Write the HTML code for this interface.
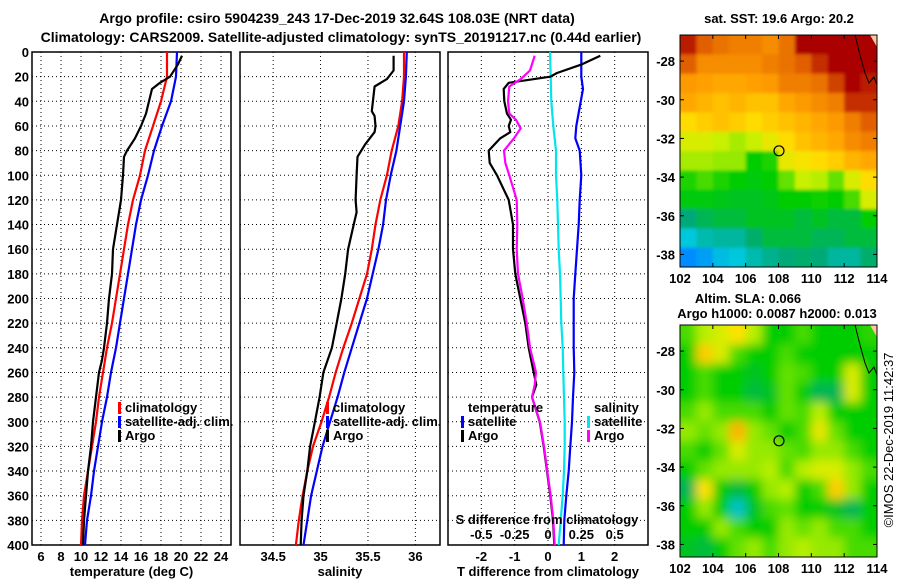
<!DOCTYPE html>
<html><head><meta charset="utf-8"><style>
body{margin:0;background:#fff;}
svg{display:block;font-family:"Liberation Sans",Arial,sans-serif;}
.b{font-weight:bold;font-size:13px;}
.t{font-weight:bold;font-size:14px;}
</style></head><body>
<svg id="c" width="900" height="580" viewBox="0 0 900 580">
<rect width="900" height="580" fill="#fff"/>
<text class="t" x="337" y="23" text-anchor="middle">Argo profile: csiro 5904239_243 17-Dec-2019 32.64S 108.03E (NRT data)</text>
<text class="t" x="341" y="42" text-anchor="middle">Climatology: CARS2009. Satellite-adjusted climatology: synTS_20191217.nc (0.44d earlier)</text>
<g id="g"></g>
</svg>
<script>
// ---- data ----
const depthTicks=[0,20,40,60,80,100,120,140,160,180,200,220,240,260,280,300,320,340,360,380,400];
const tempTicks=[6,8,10,12,14,16,18,20,22,24];
const salTicks=[34.5,35,35.5,36];
const tdTicks=[-2,-1,0,1,2];
const sdTicks=[-0.5,-0.25,0,0.25,0.5];
const sdTickLabels=["-0.5","-0.25","0","0.25","0.5"];
const stdDepth=[0,20,40,60,80,100,120,140,160,180,200,220,240,260,280,300,320,340,360,380,400];
const tempClim=[18.6,18.6,18.0,17.2,16.4,15.9,15.2,14.7,14.3,13.9,13.5,13.1,12.6,12.2,11.8,11.5,11.1,10.7,10.3,10.1,10.0];
const tempSat=[19.6,19.5,19.0,18.1,17.3,16.7,16.0,15.5,15.1,14.7,14.3,13.9,13.5,13.0,12.6,12.1,11.7,11.3,11.0,10.6,10.4];
const salClim=[35.88,35.88,35.86,35.82,35.75,35.70,35.63,35.58,35.54,35.49,35.41,35.33,35.24,35.16,35.09,35.01,34.92,34.86,34.81,34.77,34.74];
const salSat=[35.91,35.90,35.88,35.84,35.80,35.74,35.69,35.66,35.61,35.55,35.49,35.41,35.33,35.25,35.18,35.10,35.02,34.96,34.90,34.86,34.82];
const sdSat=[0.015,0.02,0.025,0.04,0.06,0.06,0.07,0.075,0.08,0.09,0.095,0.1,0.11,0.115,0.12,0.125,0.125,0.12,0.11,0.095,0.08];
const tdSatDepth=[0,20,30,60,70,80,100,120,140,160,180,200,220,240,260,280,300,320,340,360,380,400];
const tdSat=[1.0,1.0,1.05,0.85,0.82,0.95,1.0,0.95,0.92,0.87,0.82,0.77,0.77,0.77,0.79,0.75,0.72,0.67,0.62,0.55,0.49,0.47];
const argoTDepth=[3,10,20,25,30,40,50,60,70,80,85,100,120,140,160,180,200,220,240,250,260,280,300,320,340,360,380,400];
const argoTemp=[20.1,19.7,18.9,17.9,17.1,16.8,16.5,16.0,15.4,14.6,14.3,14.2,14.0,13.6,13.2,13.1,12.8,12.6,12.3,12.1,11.8,11.5,11.2,11.0,10.7,10.5,10.3,10.2];
const argoSDepth=[3,15,22,28,35,48,52,60,65,75,85,100,120,130,140,160,180,200,220,240,260,280,300,320,340,360,380,400];
const argoSal=[35.77,35.77,35.70,35.57,35.56,35.54,35.57,35.58,35.57,35.47,35.39,35.38,35.37,35.38,35.35,35.29,35.26,35.22,35.17,35.12,35.03,34.99,34.94,34.89,34.86,34.82,34.80,34.79];
const tdArgoDepth=[3,10,17,20,25,30,40,50,55,60,65,70,80,90,100,120,140,160,180,200,220,240,260,270,280,300,320,340,360,380,400];
const tdArgo=[1.57,1.02,0.27,0.07,-1.18,-1.33,-1.31,-1.23,-1.11,-1.18,-1.13,-1.43,-1.78,-1.75,-1.53,-1.18,-1.05,-1.05,-0.98,-0.83,-0.68,-0.58,-0.43,-0.35,-0.48,-0.25,-0.13,-0.03,0.07,0.15,0.19];
const sdArgoDepth=[3,15,22,28,40,50,55,62,70,80,90,100,120,140,160,180,200,220,240,260,270,280,300,320,340,360,380,400];
const sdArgo=[-0.10,-0.135,-0.205,-0.29,-0.30,-0.29,-0.24,-0.205,-0.255,-0.33,-0.32,-0.29,-0.235,-0.23,-0.235,-0.225,-0.19,-0.16,-0.135,-0.09,-0.10,-0.12,-0.06,-0.03,-0.005,0.02,0.04,0.05];
const latTicks=[-28,-30,-32,-34,-36,-38];
const lonTicks=[102,104,106,108,110,112,114];
const sstGrid=[
[0.92,0.85,0.82,0.80,0.80,0.78,0.82,0.95,0.95,0.95,0.95,0.95],
[0.85,0.78,0.78,0.78,0.78,0.80,0.82,0.85,0.90,0.95,0.95,0.95],
[0.76,0.75,0.74,0.74,0.75,0.76,0.80,0.80,0.82,0.88,0.95,0.92],
[0.74,0.72,0.70,0.72,0.70,0.70,0.74,0.76,0.78,0.80,0.90,0.90],
[0.66,0.68,0.70,0.68,0.66,0.68,0.70,0.72,0.74,0.76,0.80,0.85],
[0.60,0.60,0.58,0.56,0.58,0.62,0.66,0.70,0.72,0.74,0.78,0.80],
[0.56,0.56,0.55,0.55,0.45,0.47,0.62,0.64,0.66,0.68,0.72,0.74],
[0.47,0.50,0.47,0.45,0.44,0.45,0.52,0.58,0.57,0.52,0.60,0.66],
[0.44,0.44,0.43,0.42,0.42,0.43,0.45,0.45,0.46,0.45,0.50,0.60],
[0.35,0.38,0.40,0.40,0.42,0.42,0.42,0.40,0.42,0.40,0.40,0.45],
[0.22,0.28,0.30,0.30,0.36,0.40,0.40,0.40,0.38,0.38,0.40,0.40],
[0.12,0.15,0.20,0.22,0.28,0.32,0.35,0.36,0.35,0.30,0.30,0.36]];
const slaGrid=[
[0.50,0.57,0.60,0.65,0.57,0.45,0.45,0.50,0.45,0.45,0.45,0.48],
[0.45,0.68,0.60,0.50,0.45,0.45,0.50,0.45,0.45,0.45,0.45,0.45],
[0.45,0.50,0.45,0.45,0.42,0.45,0.52,0.50,0.45,0.45,0.60,0.45],
[0.45,0.50,0.45,0.45,0.40,0.42,0.52,0.45,0.38,0.38,0.60,0.45],
[0.50,0.55,0.50,0.50,0.50,0.45,0.52,0.50,0.57,0.45,0.45,0.45],
[0.55,0.52,0.55,0.72,0.55,0.52,0.45,0.50,0.62,0.52,0.45,0.45],
[0.50,0.45,0.52,0.60,0.55,0.55,0.52,0.50,0.55,0.55,0.50,0.45],
[0.45,0.52,0.55,0.55,0.55,0.57,0.50,0.57,0.60,0.60,0.55,0.50],
[0.38,0.65,0.45,0.40,0.45,0.55,0.57,0.45,0.50,0.68,0.55,0.45],
[0.45,0.55,0.45,0.25,0.42,0.50,0.52,0.45,0.45,0.42,0.38,0.45],
[0.45,0.45,0.55,0.50,0.45,0.45,0.55,0.52,0.55,0.50,0.50,0.45],
[0.42,0.40,0.45,0.52,0.55,0.50,0.55,0.57,0.55,0.55,0.50,0.50]];
const argoLon=108.03, argoLat=-32.64;

// ---- helpers ----
const NS="http://www.w3.org/2000/svg";
const G=document.getElementById('g');
function mk(tag,attrs,parent){const e=document.createElementNS(NS,tag);for(const k in attrs)e.setAttribute(k,attrs[k]);(parent||G).appendChild(e);return e;}
const Y0=52,Y1=545;
const yD=d=>Y0+d*(Y1-Y0)/400;
function lin(d0,d1,r0,r1){return v=>r0+(v-d0)/(d1-d0)*(r1-r0);}
const xT=lin(5.1,25,32,231);
const xS=lin(34.15,36.26,240,440);
const xTD=lin(-3,3,448,648);
const xSD=lin(-0.75,0.75,448,648);

function panel(name,x0,x1,ticks,xf,labels,title){
  const g=mk('g',{});
  
  
  depthTicks.forEach(d=>{
    const l=mk('line',{x1:x0,x2:x1,y1:yD(d),y2:yD(d),stroke:'#000','stroke-width':1,'stroke-dasharray':'1,3'},g);
    
    
  });
  ticks.forEach((t,i)=>{
    const x=xf(t);
    const l=mk('line',{x1:x,x2:x,y1:Y0,y2:Y1,stroke:'#000','stroke-width':1,'stroke-dasharray':'1,3'},g);
    
    
    if(labels){
      const tx=mk('text',{x:x,y:561,'text-anchor':'middle',class:'b'},g);
      tx.textContent=labels[i];
      
      
    }
  });
  const r=mk('rect',{x:x0,y:Y0,width:x1-x0,height:Y1-Y0,fill:'none',stroke:'#000','stroke-width':1.5},g);
  
  
  const tt=mk('text',{x:(x0+x1)/2,y:576,'text-anchor':'middle',class:'b'},g);
  tt.textContent=title;
  
  
  return g;
}
function series(name,xs,ds,xf,color){
  const pts=xs.map((v,i)=>xf(v).toFixed(1)+','+yD(ds[i]).toFixed(1)).join(' ');
  const p=mk('polyline',{points:pts,fill:'none',stroke:color,'stroke-width':2.2,'stroke-linejoin':'round'});
  
  
}
function legend(items,x,y0){
  items.forEach((it,i)=>{
    const y=y0+i*14;
    if(it.c){
      const b=mk('rect',{x:x,y:y-10,width:3,height:12,fill:it.c});
      
      
    }
    const t=mk('text',{x:x+7,y:y,class:'b'});
    t.textContent=it.t;
    
    
  });
}

depthTicks.forEach(d=>{
  const t=mk('text',{x:29,y:yD(d)+5,'text-anchor':'end',class:'b'});
  t.textContent=d;
  
  
});

panel('temperature-panel',32,231,tempTicks,xT,tempTicks.map(String),'temperature (deg C)');
series('temp-climatology-line',tempClim,stdDepth,xT,'#ff0000');
series('temp-satellite-line',tempSat,stdDepth,xT,'#0000ff');
series('temp-argo-line',argoTemp,argoTDepth,xT,'#000');
legend([{c:'#f00',t:'climatology'},{c:'#00f',t:'satellite-adj. clim.'},{c:'#000',t:'Argo'}],118,412);

panel('salinity-panel',240,440,salTicks,xS,salTicks.map(String),'salinity');
series('sal-climatology-line',salClim,stdDepth,xS,'#ff0000');
series('sal-satellite-line',salSat,stdDepth,xS,'#0000ff');
series('sal-argo-line',argoSal,argoSDepth,xS,'#000');
legend([{c:'#f00',t:'climatology'},{c:'#00f',t:'satellite-adj. clim.'},{c:'#000',t:'Argo'}],326,412);

panel('difference-panel',448,648,tdTicks,xTD,tdTicks.map(String),'T difference from climatology');
series('td-satellite-line',tdSat,tdSatDepth,xTD,'#0000ff');
series('sd-satellite-line',sdSat,stdDepth,xSD,'#00e5ee');
series('td-argo-line',tdArgo,tdArgoDepth,xTD,'#000');
series('sd-argo-line',sdArgo,sdArgoDepth,xSD,'#ff00ff');
legend([{t:'temperature'},{c:'#00f',t:'satellite'},{c:'#000',t:'Argo'}],461,412);
legend([{t:'salinity'},{c:'#00e5ee',t:'satellite'},{c:'#f0f',t:'Argo'}],587,412);
{
  const t=mk('text',{x:547,y:524,'text-anchor':'middle',class:'b'});
  t.textContent='S difference from climatology';
  
  
  sdTicks.forEach((s,i)=>{
    const tx=mk('text',{x:xSD(s),y:539,'text-anchor':'middle',class:'b'});
    tx.textContent=sdTickLabels[i];
    
    
  });
}

// ---- maps ----
const stops=[[0,[0,60,255]],[0.12,[0,140,255]],[0.22,[0,200,220]],[0.35,[0,170,120]],[0.45,[0,205,0]],[0.52,[100,225,0]],[0.58,[200,240,0]],[0.65,[255,225,0]],[0.75,[255,160,0]],[0.85,[225,95,0]],[0.95,[170,0,0]],[1,[160,0,0]]];
function cmap(v){
  for(let i=1;i<stops.length;i++){if(v<=stops[i][0]){const a=stops[i-1],b=stops[i];const f=(v-a[0])/(b[0]-a[0]);return 'rgb('+a[1].map((c,k)=>Math.round(c+(b[1][k]-c)*f)).join(',')+')';}}
  return 'rgb(160,0,0)';
}
function map(name,top,bot,grid,blur){
  const X0=680,X1=877,latTop=-26.65,latBot=-38.65;
  const xl=lin(102,114,X0,X1), yl=lin(latTop,latBot,top,bot);
  const g=mk('g',{});
  
  
  const cid=name+'-clip';
  const defs=mk('defs',{},g);
  const cp=mk('clipPath',{id:cid},defs);
  mk('rect',{x:X0,y:top,width:X1-X0,height:bot-top},cp);
  if(blur){const f=mk('filter',{id:name+'-f',x:'-10%',y:'-10%',width:'120%',height:'120%'},defs);mk('feGaussianBlur',{stdDeviation:blur},f);}
  const inner=mk('g',{'clip-path':'url(#'+cid+')'},g);
  const cells=mk('g',blur?{filter:'url(#'+name+'-f)'}:{},inner);
  const nr=grid.length,nc=grid[0].length;
  const dLat=(latTop-latBot)/nr, dLon=12/nc;
  grid.forEach((row,r)=>row.forEach((v,c)=>{
    const x=xl(102+c*dLon)-(blur&&c==0?15:0), y=yl(latTop-r*dLat)-(blur&&r==0?15:0);
    const w=xl(102+(c+1)*dLon)-x+(blur&&c==nc-1?15:0)+0.5, h=yl(latTop-(r+1)*dLat)-y+(blur&&r==nr-1?15:0)+0.5;
    const e=mk('rect',{x:x,y:y,width:w,height:h,fill:cmap(v)},cells);
    
    
  }));
  mk('path',{d:`M${X1-7},${top} L${X1},${top} L${X1},${top+12} Z`,fill:'#ffc8a0'},inner);
  const cl=mk('polyline',{points:`${X1-22},${top} ${X1-17},${top+20} ${X1-12},${top+38} ${X1-8},${top+48} ${X1-3},${top+42} ${X1},${top+50}`,fill:'none',stroke:'#000','stroke-width':1},inner);
  
  
  const ci=mk('circle',{cx:xl(argoLon),cy:yl(argoLat),r:5,fill:'none',stroke:'#000','stroke-width':1.2},g);
  
  
  const fr=mk('rect',{x:X0,y:top,width:X1-X0,height:bot-top,fill:'none',stroke:'#000','stroke-width':1},g);
  
  
  latTicks.forEach(l=>{
    const y=yl(l);
    mk('line',{x1:X0,x2:X0+4,y1:y,y2:y,stroke:'#000'},g);
    mk('line',{x1:X1-4,x2:X1,y1:y,y2:y,stroke:'#000'},g);
    const t=mk('text',{x:675,y:y+5,'text-anchor':'end',class:'b'},g);
    t.textContent=l;
    
    
  });
  lonTicks.forEach(l=>{
    const x=xl(l);
    mk('line',{x1:x,x2:x,y1:bot,y2:bot-4,stroke:'#000'},g);
    mk('line',{x1:x,x2:x,y1:top,y2:top+4,stroke:'#000'},g);
    const t=mk('text',{x:x,y:bot+16,'text-anchor':'middle',class:'b'},g);
    t.textContent=l;
    
    
  });
}
map('sst-map',35,267,sstGrid,1.5);
map('sla-map',325,557,slaGrid,5);
function txt(name,s,x,y,anchor){const t=mk('text',{x:x,y:y,'text-anchor':anchor||'middle',class:'b'});t.textContent=s;return t;}
txt('sst-map-title','sat. SST: 19.6 Argo: 20.2',779,23);
txt('sla-map-title','Altim. SLA: 0.066',748,303);
txt('sla-map-subtitle','Argo h1000: 0.0087 h2000: 0.013',777,318);
{
  const t=mk('text',{x:0,y:0,'text-anchor':'middle','font-size':'13px',transform:'translate(893,440) rotate(-90)'});
  t.textContent='©IMOS 22-Dec-2019 11:42:37';
  
  
}
</script>
</body></html>
